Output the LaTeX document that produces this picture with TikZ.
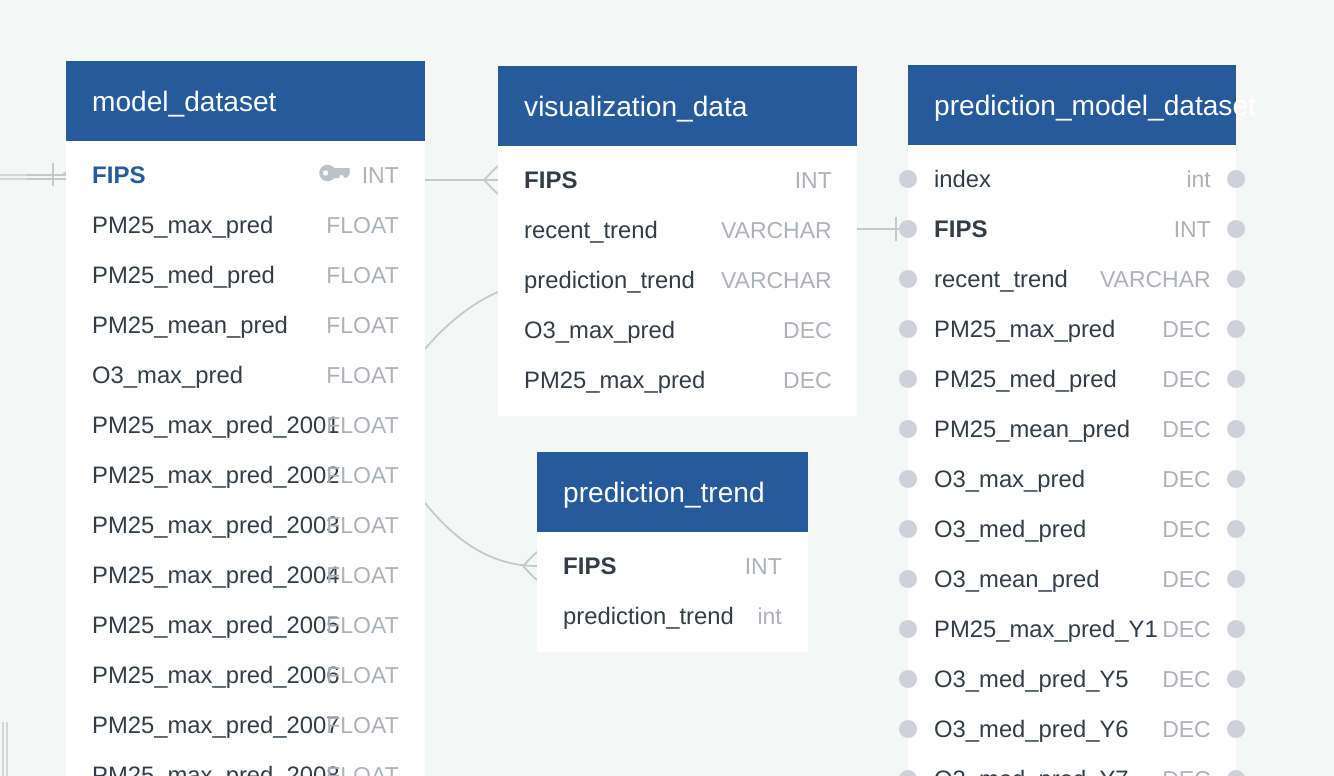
\documentclass[tikz,border=0pt]{standalone}
\usepackage{fontspec}
\setmainfont{Liberation Sans}
\definecolor{bgc}{HTML}{F5F7F7}
\definecolor{headc}{HTML}{265A9B}
\definecolor{darkt}{HTML}{343D47}
\definecolor{greyt}{HTML}{AEB2B8}
\definecolor{linec}{HTML}{C6C9C9}
\definecolor{dotc}{HTML}{D0D0DA}
\definecolor{keyc}{HTML}{BEC1C5}
\tikzset{
  x=1pt,y=-1pt,
  panel/.style={fill=white,draw=none,inner sep=0pt,anchor=north west},
  head/.style={fill=headc,draw=none,inner sep=0pt,anchor=north west,minimum height=80pt},
  headtext/.style={text=white,inner sep=0pt,anchor=base west,font=\fontsize{28.1}{28}\selectfont},
  rowname/.style={text=darkt,inner sep=0pt,anchor=base west,font=\fontsize{23.8}{24}\selectfont},
  rowpk/.style={text=headc,inner sep=0pt,anchor=base west,font=\fontsize{24}{24}\selectfont\bfseries},
  rowbold/.style={text=darkt,inner sep=0pt,anchor=base west,font=\fontsize{24}{24}\selectfont\bfseries},
  rowtype/.style={text=greyt,inner sep=0pt,anchor=base east,font=\fontsize{23}{23}\selectfont},
  conn/.style={draw=linec,line width=1.8pt},
  dot/.style={circle,fill=dotc,draw=none,inner sep=0pt,minimum size=18pt},
}
% \rowitem{id}{style}{xleft}{xright}{ycentre}{name}{type}
\newcommand{\rowitem}[7]{%
  \node[#2] (#1n) at (#3,#5+8) {#6};
  \node[rowtype] (#1t) at (#4+1,#5+8) {#7};
}
\newcommand{\dotpair}[2]{%
  \node[dot] (#1a) at (908,#2) {};
  \node[dot] (#1b) at (1236,#2) {};
}
\begin{document}
\begin{tikzpicture}
\useasboundingbox (0,0) rectangle (1334,776);
\clip (0,0) rectangle (1334,776);
\fill[bgc] (0,0) rectangle (1334,776);

% anchors of the connectors
\coordinate (mfipsR) at (425,180);
\coordinate (vfipsL) at (498,180);
\coordinate (vrecR) at (857,229);
\coordinate (pfipsL) at (908,229);
\coordinate (mcurveA) at (425,349);
\coordinate (vcurveA) at (498,292);
\coordinate (mcurveB) at (425,503);
\coordinate (tfipsL) at (537,566);
\coordinate (offL) at (0,175);
\coordinate (offLb) at (0,179);
\coordinate (mfipsL) at (66,175);
\coordinate (mfipsLb) at (66,179);
\coordinate (offA) at (3,722);
\coordinate (offAe) at (3,776);
\coordinate (offB) at (7,722);
\coordinate (offBe) at (7,776);

% connectors
\draw[draw=linec!70!bgc,line width=1.8pt] (offL) -- (mfipsL);
\draw[draw=linec!70!bgc,line width=1.8pt] (offLb) -- (mfipsLb);
\draw[conn] (27,175) -- (mfipsL);
\draw[conn] (27,179) -- (mfipsLb);
\draw[conn] (53,163) -- (53,186);
\fill[linec] (65,174) circle[radius=2];
\draw[draw=linec!70!bgc,line width=1.8pt] (offA) -- (offAe);
\draw[draw=linec!70!bgc,line width=1.8pt] (offB) -- (offBe);
\draw[conn] (mfipsR) -- (vfipsL);
\draw[conn] (484,180) .. controls (488,176) and (493,170) .. (498,166);
\draw[conn] (484,180) .. controls (488,184) and (493,190) .. (498,194);
\draw[conn] (vrecR) -- (pfipsL);
\draw[conn] (896,217) -- (896,241);
\draw[conn] (mcurveA) .. controls (445,325) and (472,303) .. (vcurveA);
\draw[conn] (mcurveB) .. controls (455,540) and (490,566) .. (tfipsL);
\draw[conn] (523,566) .. controls (527,562) and (532,556) .. (537,552);
\draw[conn] (523,566) .. controls (527,570) and (532,576) .. (537,580);

% model_dataset
\node[panel,minimum width=359pt,minimum height=700pt] (mpanel) at (66,141) {};
\node[head,minimum width=359pt] (mhead) at (66,61) {};
\node[headtext] (mtitle) at (92,111) {model\_dataset};
\fill[keyc,even odd rule] (327.5,173) circle[radius=8.3] (325.5,173) circle[radius=2.8];
\fill[keyc] (334,168) -- (349.5,168) -- (349.5,174) -- (347,177.5) -- (344,177.5) -- (343,175) -- (340,175) -- (339,178) -- (334,178) -- cycle;
\rowitem{ma}{rowpk}{92}{398}{175}{FIPS}{INT}
\rowitem{mb}{rowname}{92}{398}{225}{PM25\_max\_pred}{FLOAT}
\rowitem{mc}{rowname}{92}{398}{275}{PM25\_med\_pred}{FLOAT}
\rowitem{md}{rowname}{92}{398}{325}{PM25\_mean\_pred}{FLOAT}
\rowitem{me}{rowname}{92}{398}{375}{O3\_max\_pred}{FLOAT}
\rowitem{mf}{rowname}{92}{398}{425}{PM25\_max\_pred\_2001}{FLOAT}
\rowitem{mg}{rowname}{92}{398}{475}{PM25\_max\_pred\_2002}{FLOAT}
\rowitem{mh}{rowname}{92}{398}{525}{PM25\_max\_pred\_2003}{FLOAT}
\rowitem{mi}{rowname}{92}{398}{575}{PM25\_max\_pred\_2004}{FLOAT}
\rowitem{mj}{rowname}{92}{398}{625}{PM25\_max\_pred\_2005}{FLOAT}
\rowitem{mk}{rowname}{92}{398}{675}{PM25\_max\_pred\_2006}{FLOAT}
\rowitem{ml}{rowname}{92}{398}{725}{PM25\_max\_pred\_2007}{FLOAT}
\rowitem{mm}{rowname}{92}{398}{775}{PM25\_max\_pred\_2008}{FLOAT}

% visualization_data
\node[panel,minimum width=359pt,minimum height=270pt] (vpanel) at (498,146) {};
\node[head,minimum width=359pt] (vhead) at (498,66) {};
\node[headtext] (vtitle) at (524,116) {visualization\_data};
\rowitem{va}{rowbold}{524}{831}{180}{FIPS}{INT}
\rowitem{vb}{rowname}{524}{831}{230}{recent\_trend}{VARCHAR}
\rowitem{vc}{rowname}{524}{831}{280}{prediction\_trend}{VARCHAR}
\rowitem{vd}{rowname}{524}{831}{330}{O3\_max\_pred}{DEC}
\rowitem{ve}{rowname}{524}{831}{380}{PM25\_max\_pred}{DEC}

% prediction_trend
\node[panel,minimum width=271pt,minimum height=120pt] (tpanel) at (537,532) {};
\node[head,minimum width=271pt] (thead) at (537,452) {};
\node[headtext] (ttitle) at (563,502) {prediction\_trend};
\rowitem{ta}{rowbold}{563}{781}{566}{FIPS}{INT}
\rowitem{tb}{rowname}{563}{781}{616}{prediction\_trend}{int}

% prediction_model_dataset
\node[panel,minimum width=328pt,minimum height=700pt] (ppanel) at (908,145) {};
\node[head,minimum width=328pt] (phead) at (908,65) {};
\node[headtext] (ptitle) at (934,115) {prediction\_model\_dataset};
\dotpair{da}{179}\dotpair{db}{229}\dotpair{dc}{279}\dotpair{dd}{329}
\dotpair{de}{379}\dotpair{df}{429}\dotpair{dg}{479}\dotpair{dh}{529}
\dotpair{di}{579}\dotpair{dj}{629}\dotpair{dk}{679}\dotpair{dl}{729}\dotpair{dm}{779}
\rowitem{pa}{rowname}{934}{1210}{179}{index}{int}
\rowitem{pb}{rowbold}{934}{1210}{229}{FIPS}{INT}
\rowitem{pc}{rowname}{934}{1210}{279}{recent\_trend}{VARCHAR}
\rowitem{pd}{rowname}{934}{1210}{329}{PM25\_max\_pred}{DEC}
\rowitem{pe}{rowname}{934}{1210}{379}{PM25\_med\_pred}{DEC}
\rowitem{pf}{rowname}{934}{1210}{429}{PM25\_mean\_pred}{DEC}
\rowitem{pg}{rowname}{934}{1210}{479}{O3\_max\_pred}{DEC}
\rowitem{ph}{rowname}{934}{1210}{529}{O3\_med\_pred}{DEC}
\rowitem{pi}{rowname}{934}{1210}{579}{O3\_mean\_pred}{DEC}
\rowitem{pj}{rowname}{934}{1210}{629}{PM25\_max\_pred\_Y1}{DEC}
\rowitem{pk}{rowname}{934}{1210}{679}{O3\_med\_pred\_Y5}{DEC}
\rowitem{pl}{rowname}{934}{1210}{729}{O3\_med\_pred\_Y6}{DEC}
\rowitem{pm}{rowname}{934}{1210}{779}{O3\_med\_pred\_Y7}{DEC}
\end{tikzpicture}
\end{document}
